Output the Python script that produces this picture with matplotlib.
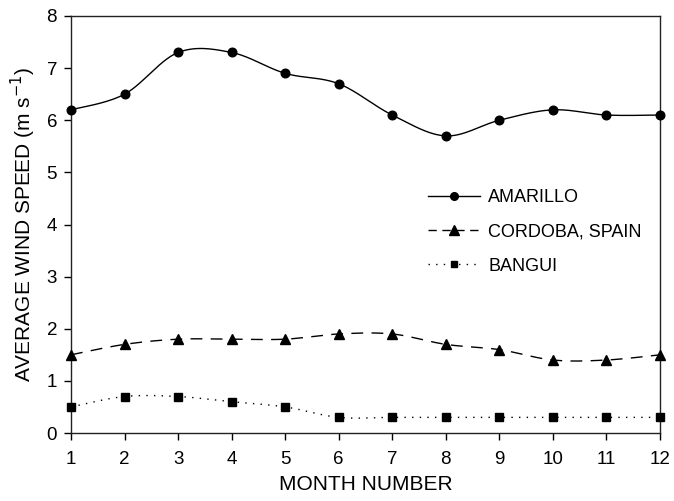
import numpy as np
import matplotlib
matplotlib.use("Agg")
import matplotlib.pyplot as plt
from matplotlib.lines import Line2D

plt.rcParams['font.family'] = ['Liberation Sans', 'DejaVu Sans']

months = [1, 2, 3, 4, 5, 6, 7, 8, 9, 10, 11, 12]
amarillo = [6.2, 6.5, 7.3, 7.3, 6.9, 6.7, 6.1, 5.7, 6.0, 6.2, 6.1, 6.1]
cordoba = [1.5, 1.7, 1.8, 1.8, 1.8, 1.9, 1.9, 1.7, 1.6, 1.4, 1.4, 1.5]
bangui = [0.5, 0.7, 0.7, 0.6, 0.5, 0.3, 0.3, 0.3, 0.3, 0.3, 0.3, 0.3]
labels = ["AMARILLO", "CORDOBA, SPAIN", "BANGUI"]


def smooth(x, y, n=30):
    x = np.asarray(x, float)
    y = np.asarray(y, float)
    px = np.concatenate([[x[0]], x, [x[-1]]])
    py = np.concatenate([[y[0]], y, [y[-1]]])
    xs, ys = [], []
    t = np.linspace(0, 1, n)
    for i in range(1, len(px) - 2):
        p0, p1, p2, p3 = (np.array([px[j], py[j]]) for j in (i - 1, i, i + 1, i + 2))
        c1 = p1 + (p2 - p0) / 6
        c2 = p2 - (p3 - p1) / 6
        b = ((1 - t) ** 3)[:, None] * p1 + (3 * (1 - t) ** 2 * t)[:, None] * c1 \
            + (3 * (1 - t) * t ** 2)[:, None] * c2 + (t ** 3)[:, None] * p2
        xs.extend(b[:, 0])
        ys.extend(b[:, 1])
    return xs, ys


W, H = 674, 501
fig = plt.figure(figsize=(W / 100, H / 100), dpi=100)
L, R, T, B = 71, 660, 16, 433
ax = fig.add_axes([L / W, 1 - B / H, (R - L) / W, (B - T) / H])

styles = [
    dict(marker='o', ms=6.2, lms=5.5, dashes=None),
    dict(marker='^', ms=7.8, lms=6.5, dashes=(8.5, 6)),
    dict(marker='s', ms=5.8, lms=5, dashes=(1, 4.5)),
]
series = [amarillo, cordoba, bangui]
handles = []
for y, st, lab in zip(series, styles, labels):
    sx, sy = smooth(months, y)
    kw = dict(color='black', lw=1.0)
    if st['dashes'] is not None:
        ax.plot(sx, sy, ls='--', dashes=st['dashes'], **kw)
    else:
        ax.plot(sx, sy, ls='-', **kw)
    ax.plot(months, y, ls='none', marker=st['marker'], ms=st['ms'], color='black',
            clip_on=False, zorder=5)
    h = Line2D([], [], color='black', lw=1.0, marker=st['marker'], ms=st['lms'])
    if st['dashes'] is not None:
        h.set_linestyle('--')
        h.set_dashes(st['dashes'] if st['marker'] != '^' else (6, 4))
    handles.append(h)

ax.set_xlim(1, 12)
ax.set_ylim(0, 8)
ax.set_xticks(months)
ax.set_yticks(range(0, 9))
ax.tick_params(direction='out', length=5, width=1, labelsize=13.5, colors='black')
ax.tick_params(axis='x', pad=8)
ax.tick_params(axis='y', pad=5)
for s in ax.spines.values():
    s.set_linewidth(1)
    s.set_color('#222222')
ax.set_xlabel('MONTH NUMBER', fontsize=15, labelpad=5)
ax.set_ylabel(r'AVERAGE WIND SPEED (m s$^{-1}$)', fontsize=15, labelpad=6)

leg = ax.legend(handles, labels, loc='center left', bbox_to_anchor=(0.578, 0.482),
                frameon=False, fontsize=13, handlelength=2.9, labelspacing=0.95,
                handletextpad=0.45)

fig.savefig('out.png', dpi=100)
